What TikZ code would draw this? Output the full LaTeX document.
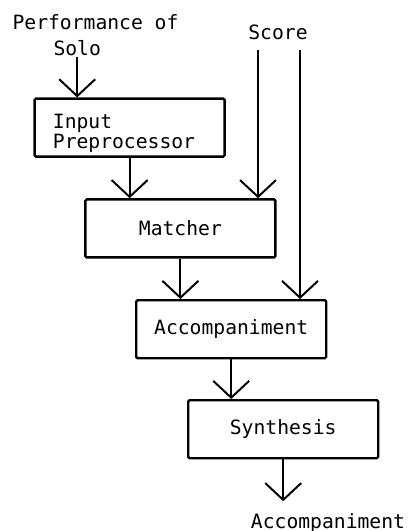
\documentclass[tikz,border=0pt]{standalone}
\usepackage{fontspec}
\setmonofont{DejaVu Sans Mono}
\usetikzlibrary{arrows.meta}

\tikzset{
  block/.style={draw=black, line width=1.7pt, rounded corners=1pt, minimum width=4.75cm,
    minimum height=1.45cm, font=\ttfamily\fontsize{14}{14.5}\selectfont},
  lbl/.style={font=\ttfamily\fontsize{14}{14.5}\selectfont, inner sep=0pt},
  flow/.style={line width=1.4pt, -{Straight Barb[length=0.42cm, width=0.9cm]}}
}

\begin{document}
\begin{tikzpicture}[thick]

  \useasboundingbox (0, 0) rectangle (10.175, -13.275);

  % -- Input Labels --
  \node[lbl, anchor=west] (perf) at (0.3, -0.55) {Performance of};
  \node[lbl] (solo) at (1.93, -1.2) {Solo};
  \node[lbl] (score) at (6.95, -0.8) {Score};
  \coordinate (scoreA) at (6.45, -1.25);
  \coordinate (scoreB) at (7.5, -1.25);

  % -- Processing Blocks --
  \node[block] (inpre) at (3.24, -3.19) {};
  \node[lbl, align=left] (inpretxt) at (3.1, -3.33) {Input\\Preprocessor};
  \node[block] (match) at (4.51, -5.71) {Matcher};
  \node[block] (accomp) at (5.78, -8.23) {Accompaniment};
  \node[block] (synth) at (7.08, -10.73) {Synthesis};

  % -- Output --
  \coordinate (outEnd) at (7.08, -12.53);
  \node[lbl] (outlbl) at (8.2, -13.07) {Accompaniment};

  % -- Flow Arrows --
  \draw[flow] (solo.south |- 0, -1.42) -- (solo.south |- inpre.north);
  \draw[flow] (inpre.south) -- (inpre.south |- match.north);
  \draw[flow] (scoreA) -- (scoreA |- match.north);
  \draw[flow] (match.south) -- (match.south |- accomp.north);
  \draw[flow] (scoreB) -- (scoreB |- accomp.north);
  \draw[flow] (accomp.south) -- (accomp.south |- synth.north);
  \draw[flow] (synth.south) -- (outEnd);

\end{tikzpicture}
\end{document}
